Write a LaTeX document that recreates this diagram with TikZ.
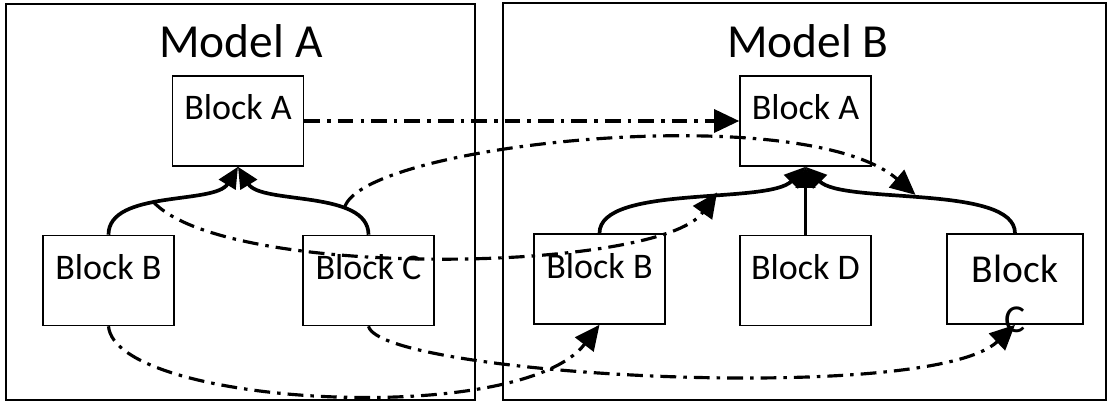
\documentclass[tikz,border=0pt]{standalone}
\usepackage{fontspec}
\setmainfont{Carlito}
\usepackage{tikz}
\usetikzlibrary{arrows.meta,positioning}

\begin{document}
\begin{tikzpicture}[
  blk/.style={draw, line width=0.9pt, minimum width=2.62cm, minimum height=1.8cm, inner sep=0pt, text height=0.88cm, text depth=0.92cm, font=\fontsize{20.5pt}{24pt}\selectfont},
  ttl/.style={anchor=base, inner sep=0pt, font=\fontsize{27pt}{32pt}\selectfont},
  frm/.style={draw, line width=0.9pt},
  link/.style={line width=2.1pt, -{Triangle[length=0.42cm, width=0.38cm]}},
  map/.style={line width=1.8pt, dash pattern=on 9pt off 4pt on 2pt off 4pt, -{Triangle[length=0.5cm, width=0.46cm]}}
]
\useasboundingbox (0,0) rectangle (22.16,8.02);
\draw[frm] (0.12,0.02) rectangle (9.50,7.94);
\draw[frm] (10.06,0.02) rectangle (22.12,7.96);
\node[ttl] (tA) at (4.82,6.86) {Model A};
\node[ttl] (tB) at (16.16,6.86) {Model B};
\node[blk] (aA) at (4.76,5.60) {Block A};
\node[blk] (aB) at (2.17,2.41) {Block B};
\node[blk] (aC) at (7.37,2.41) {Block C};
\node[blk] (bA) at (16.11,5.60) {Block A};
\node[blk] (bB) at (11.99,2.44) {Block B};
\node[blk] (bD) at (16.11,2.41) {Block D};
\node[blk, minimum width=2.72cm, text width=2.72cm, align=center, text height=0.98cm, text depth=0.82cm, font=\fontsize{22.5pt}{28pt}\selectfont] (bC) at (20.30,2.44) {Block\\C};
\draw[link] (aB.north) .. controls +(0,0.9) and +(-0.46,-0.76) .. (aA.south) coordinate[pos=0.43] (aBA);
\draw[link] (aC.north) .. controls +(0,0.9) and +(0.46,-0.76) .. (aA.south) coordinate[pos=0.3] (aCA);
\draw[link] (bB.north) .. controls +(0,0.98) and +(-0.74,-0.76) .. (bA.south) coordinate[pos=0.6] (bBA);
\draw[link] (bD) -- (bA);
\draw[link] (bC.north) .. controls +(0,0.98) and +(0.74,-0.76) .. (bA.south) coordinate[pos=0.53] (bCA);
\draw[map] (aA) -- (bA);
\draw[map] (aCA) .. controls +(0.36,1.26) and +(-2.26,1.94) .. (bCA);
\draw[map] (aBA) .. controls +(1.44,-1.60) and +(-1.14,-1.60) .. (bBA);
\draw[map] (aB.south) .. controls +(0.14,-1.58) and +(-1.6,-2.08) .. (bB.south);
\draw[map] (aC.south) .. controls +(0.24,-0.98) and +(-1.70,-1.62) .. (bC.south);
\end{tikzpicture}
\end{document}
